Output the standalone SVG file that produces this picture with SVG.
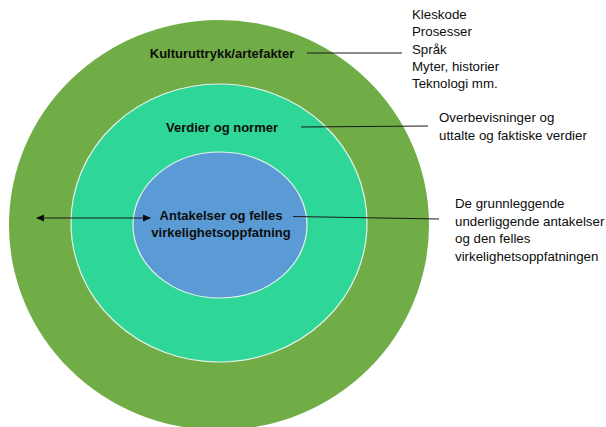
<svg xmlns="http://www.w3.org/2000/svg" width="606" height="427" viewBox="0 0 606 427">
<style>
.lbl{font-family:"Liberation Sans",Arial,sans-serif;font-size:13px;font-weight:bold;fill:#0d0d0d;text-anchor:middle}
.note{font-family:"Liberation Sans",Arial,sans-serif;font-size:13.3px;fill:#0d0d0d}
.ring{stroke:#e6f2ea;stroke-width:1.2}
.conn{stroke:#1a1a1a;stroke-width:1.1;fill:none}
</style>
<defs>
<marker id="ah" viewBox="0 0 8 8" refX="7" refY="4" markerWidth="8" markerHeight="8" markerUnits="userSpaceOnUse" orient="auto-start-reverse">
<path d="M0,0.5 L8,4 L0,7.5 Z" fill="#0d0d0d"/>
</marker>
</defs>
<rect width="606" height="427" fill="#ffffff"/>
<g id="outer">
<ellipse cx="219" cy="225" rx="210" ry="205" fill="#70ad47"/>
<text class="lbl" x="222" y="57.5">Kulturuttrykk/artefakter</text>
</g>
<g id="middle">
<ellipse class="ring" cx="219" cy="223" rx="148" ry="139" fill="#2ed697"/>
<text class="lbl" x="222" y="131.5">Verdier og normer</text>
</g>
<g id="inner">
<ellipse class="ring" cx="220" cy="225" rx="87" ry="73" fill="#5b9bd5"/>
<text class="lbl" x="221" y="219.5">Antakelser og felles</text>
<text class="lbl" x="221" y="236.5">virkelighetsoppfatning</text>
</g>
<g id="connectors">
<line class="conn" x1="307" y1="53" x2="402" y2="53"/>
<line class="conn" x1="301" y1="127" x2="428" y2="126"/>
<line class="conn" x1="293" y1="216.5" x2="439" y2="219"/>
<line class="conn" x1="37" y1="218" x2="150" y2="218" marker-start="url(#ah)" marker-end="url(#ah)"/>
</g>
<g id="note-artefakter">
<text class="note" x="412" y="19">Kleskode</text>
<text class="note" x="412" y="36.3">Prosesser</text>
<text class="note" x="412" y="53.6">Språk</text>
<text class="note" x="412" y="70.9">Myter, historier</text>
<text class="note" x="412" y="88.2">Teknologi mm.</text>
</g>
<g id="note-verdier">
<text class="note" x="439" y="122">Overbevisninger og</text>
<text class="note" x="439" y="140">uttalte og faktiske verdier</text>
</g>
<g id="note-antakelser">
<text class="note" x="455" y="208">De grunnleggende</text>
<text class="note" x="455" y="225.5">underliggende antakelser</text>
<text class="note" x="455" y="243">og den felles</text>
<text class="note" x="455" y="260.5">virkelighetsoppfatningen</text>
</g>
</svg>
